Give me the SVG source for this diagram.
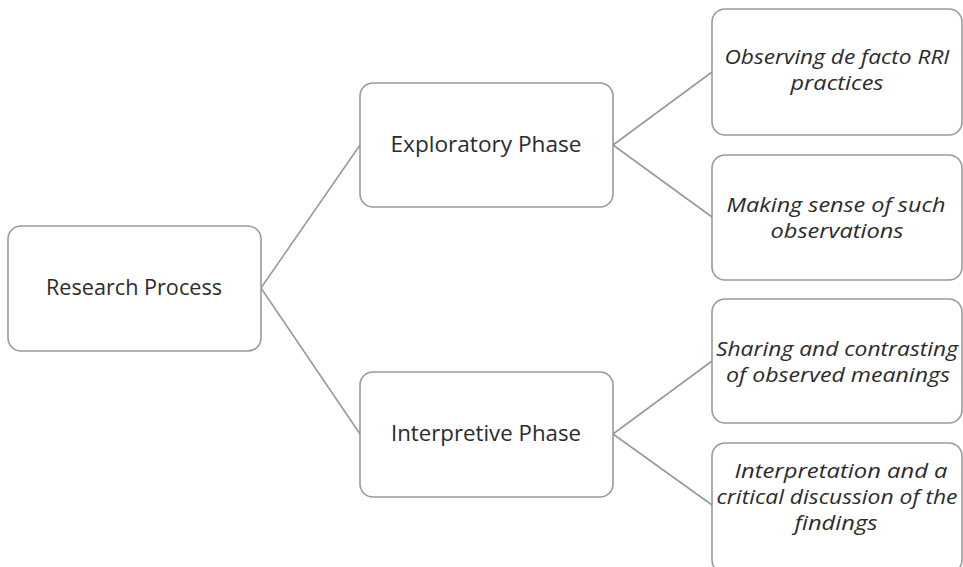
<svg xmlns="http://www.w3.org/2000/svg" width="963" height="567" viewBox="0 0 963 567">
<style>
.box{fill:#fff;stroke:#9a9a9a;stroke-width:1.6}
.t{font-family:"Open Sans","Noto Sans",sans-serif;font-size:21px;fill:#2b2b2b;text-anchor:middle}
.i{font-style:italic;font-size:20.5px}
.c{stroke:#9a9a9a;stroke-width:1.6;fill:none}
</style>
<rect width="963" height="567" fill="#fff"/>
<g id="connectors">
<path class="c" d="M261,288 L360,145 M261,288 L360,434 M613,145 L712,72 M613,145 L712,217 M613,434 L712,361 M613,434 L712,505"/>
</g>
<g id="research"><rect class="box" x="8" y="226" width="253" height="125" rx="13"/><text class="t" x="134" y="295" textLength="176" lengthAdjust="spacingAndGlyphs">Research Process</text></g>
<g id="exploratory"><rect class="box" x="360" y="83" width="253" height="124" rx="13"/><text class="t" x="486" y="152" textLength="191" lengthAdjust="spacingAndGlyphs">Exploratory  Phase</text></g>
<g id="interpretive"><rect class="box" x="360" y="372" width="253" height="125" rx="13"/><text class="t" x="486" y="441" textLength="190" lengthAdjust="spacingAndGlyphs">Interpretive Phase</text></g>
<g id="observing"><rect class="box" x="712" y="9" width="250" height="126" rx="13"/><text class="t i" x="837" y="64" textLength="225" lengthAdjust="spacingAndGlyphs">Observing de facto RRI</text><text class="t i" x="837" y="90" textLength="93" lengthAdjust="spacingAndGlyphs">practices</text></g>
<g id="making"><rect class="box" x="712" y="155" width="250" height="125" rx="13"/><text class="t i" x="836" y="212" textLength="219" lengthAdjust="spacingAndGlyphs">Making sense of such</text><text class="t i" x="837" y="238" textLength="133" lengthAdjust="spacingAndGlyphs">observations</text></g>
<g id="sharing"><rect class="box" x="712" y="299" width="250" height="124" rx="13"/><text class="t i" x="837" y="356" textLength="242" lengthAdjust="spacingAndGlyphs">Sharing and contrasting</text><text class="t i" x="838" y="382" textLength="224" lengthAdjust="spacingAndGlyphs">of observed meanings</text></g>
<g id="interpretation"><rect class="box" x="712" y="443" width="250" height="130" rx="13"/><text class="t i" x="841" y="478" textLength="213" lengthAdjust="spacingAndGlyphs">Interpretation and a</text><text class="t i" x="837" y="504" textLength="241" lengthAdjust="spacingAndGlyphs">critical discussion of the</text><text class="t i" x="836" y="530" textLength="83" lengthAdjust="spacingAndGlyphs">findings</text></g>
</svg>
